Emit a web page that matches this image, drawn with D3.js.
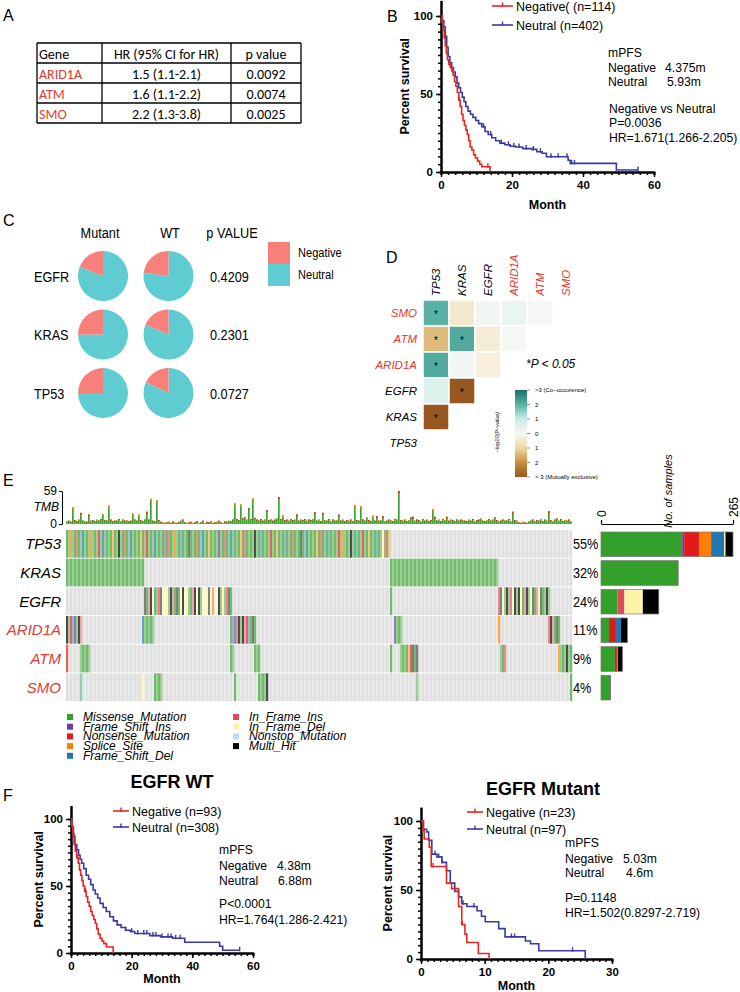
<!DOCTYPE html>
<html>
<head>
<meta charset="utf-8">
<script src="https://cdn.jsdelivr.net/npm/d3@7"></script>
<style>
  body { margin: 0; background: #fff; }
  svg { display: block; }
  text { font-family: "Liberation Sans", Arial, sans-serif; }
  .km-axis .domain { stroke: #000; stroke-width: 2; }
  .km-axis line { stroke: #000; stroke-width: 1.5; }
  .km-axis text { font-weight: bold; font-size: 11.5px; }
</style>
</head>
<body>
<svg id="fig" width="740" height="992"></svg>
<script>
"use strict";

// ---------- data: panel A ----------
const tblHeader = ["Gene", "HR (95% CI for HR)", "p value"];
const tblGenes = ["ARID1A", "ATM", "SMO"];
const tblHR = ["1.5 (1.1-2.1)", "1.6 (1.1-2.2)", "2.2 (1.3-3.8)"];
const tblP = ["0.0092", "0.0074", "0.0025"];

// ---------- data: KM curves [month, percent] ----------
const bNeg = [[0,100],[0.3,96],[0.6,91],[0.9,86],[1.2,81],[1.5,76],[1.8,72],[2.2,69],[2.6,67],[3.0,65],[3.4,62],[3.8,58],[4.2,55],[4.6,51],[5.0,46],[5.4,42],[5.8,37],[6.2,33],[6.6,30],[7.0,27],[7.4,24],[7.8,20],[8.2,16],[8.7,14],[9.2,11],[9.7,9],[10.3,7],[10.9,5],[11.5,3.4],[13.8,0]];
const bNeu = [[0,100],[0.4,97],[0.8,93],[1.2,87],[1.6,80],[2.0,74],[2.5,70],[3.0,67],[3.5,64],[4.0,61],[4.5,57],[5.0,54],[5.5,51],[6.0,48],[6.5,45],[7.0,42],[7.6,39],[8.3,37],[9.0,35],[9.8,33],[10.6,31],[11.5,29],[12.4,26],[13.3,24],[14.3,22],[15.4,20],[16.6,18.5],[18.0,17.5],[19.5,16.5],[21.0,16],[23.0,15],[25.5,14.5],[27.0,13],[28.5,12],[29.7,9.8],[35.8,7.5],[36.4,5.5],[48.5,5.5],[49.4,1.3],[55.5,1.3]];
const bNegCens = [3.1, 5.2, 13.2];
const bNeuCens = [12, 14, 17, 19, 20.5, 22, 24, 26, 28, 31, 33, 35.5, 36.8, 37.6, 55.5];

const wtNeg = [[0,100],[0.3,95],[0.6,89],[1.0,81],[1.4,76],[1.9,71],[2.4,67],[2.8,62],[3.2,58],[3.6,54],[4.0,50],[4.5,46],[5.0,42],[5.5,38],[6.0,35],[6.5,31],[7.0,28],[7.5,25],[8.0,22],[8.5,18],[9.0,14],[9.6,11],[10.2,9],[10.8,7],[11.7,4.5],[13.9,0]];
const wtNeu = [[0,100],[0.4,94],[0.8,87],[1.3,81],[1.9,77],[2.5,73],[3.0,70],[3.5,67],[4.2,63],[5.0,58],[5.8,55],[6.5,51],[7.3,47],[8.0,44],[8.8,41],[9.6,37],[10.6,34],[11.6,31],[12.8,27],[14.0,24],[15.2,21],[16.5,19],[18.0,17],[19.5,16],[21.0,14.5],[26.0,13],[29.5,12],[33.5,11],[37.5,8],[48,8],[49,5],[50,2],[55.6,2]];
const wtNegCens = [2.2, 4.8];
const wtNeuCens = [18, 20, 22, 24, 25, 27, 28, 30, 32, 33, 34.5, 36, 55.6];

const mtNeg = [[0,100],[0.3,93],[0.5,87],[1.3,81],[1.6,67],[4.0,55],[4.8,51],[5.9,38],[6.4,25],[6.9,18],[7.2,12],[9.0,4],[10.7,0]];
const mtNeu = [[0,100],[0.4,94],[0.9,92],[1.2,86],[1.7,76],[2.5,74],[3.3,70],[4.0,64],[4.6,55],[5.3,49],[5.9,45],[6.4,40],[7.2,38],[8.8,35],[9.5,31],[10.1,27],[12.2,22],[13.2,16],[16.4,13],[17.2,11],[18.5,6],[25.8,6],[25.8,0]];
const mtNegCens = [1.9, 6.5];
const mtNeuCens = [2.2, 2.8, 3.3, 6.6, 8.3, 14.2, 14.7, 23.8];

// ---------- data: panel C ----------
const pieGenes = ["EGFR", "KRAS", "TP53"];
const pieMutNegFrac = [0.19, 0.25, 0.25];
const pieWtNegFrac = [0.23, 0.185, 0.18];
const piePValues = ["0.4209", "0.2301", "0.0727"];

// ---------- data: panel D ----------
const dGenes = ["TP53", "KRAS", "EGFR", "ARID1A", "ATM", "SMO"];
const dRows = ["SMO", "ATM", "ARID1A", "EGFR", "KRAS", "TP53"];
const dPairRow = ["SMO","SMO","SMO","SMO","SMO","ATM","ATM","ATM","ATM","ARID1A","ARID1A","ARID1A","EGFR","EGFR","KRAS"];
const dPairCol = ["TP53","KRAS","EGFR","ARID1A","ATM","TP53","KRAS","EGFR","ARID1A","TP53","KRAS","EGFR","TP53","KRAS","TP53"];
const dLogP = [2.0, -0.5, 0.15, 0.3, 0.08, -1.4, 2.1, -0.4, 0.08, 2.1, 0.1, -0.3, 0.6, -3, -3];
const dSig = [1, 0, 0, 0, 0, 1, 1, 0, 0, 1, 0, 0, 0, 1, 1];
const dBarLabels = [">3 (Co\u2212occurence)", "2", "1", "0", "1", "2", "> 3 (Mutually exclusive)"];
const dBarValues = [3, 2, 1, 0, -1, -2, -3];

// ---------- data: panel E ----------
const oncoGenes = ["TP53", "KRAS", "EGFR", "ARID1A", "ATM", "SMO"];
const oncoPct = ["55%", "32%", "24%", "11%", "9%", "4%"];
const oncoN = 253;
const mutClasses = ["Missense_Mutation", "Frame_Shift_Ins", "Nonsense_Mutation", "Splice_Site", "Frame_Shift_Del", "In_Frame_Ins", "In_Frame_Del", "Nonstop_Mutation", "Multi_Hit"];
const mutCodes = ["M", "I", "N", "S", "D", "i", "d", "n", "X"];
const mutColors = ["#33A02C", "#6A3D9A", "#E31A1C", "#FF7F00", "#1F78B4", "#DF4B5B", "#FFF3A8", "#BCDCEB", "#000000"];

// runs: [first column, one code per column]
const tp53Runs = [[0,
  "MMSMMNMMDMMMSMMMNMDM" + "MMMSMMXMMNMMDMMMMSMM" + "NMMMDMMMMIMNMMSMMDMM" + "MXMMMNMMDMMSMMMMIMMN" +
  "MMDMMMMSMNMMMMXMMDMM" + "MMNMMSMMMDMMMNMMMXMM" + "DMMMMSMNMMMDMMMMNMSM" + "MMXMMDMMNMMSMMMDMMdN" + "MS"]];
const krasRuns = [[0, "MMMMMMMMMMMMMMMMMMMMMMMMMMMMMMMMMMMMMMM"],
  [162, "MMMMMMMMMMMMMMMMMMMMMMMMMMMMMMMMMMMMMMMMMMMMMMMMMMMMMM"]];
const egfrRuns = [[39, "XMiXdMMiXdddMXiMXMdXddMMiXdXMdddXdiddXMdMiXM"], [162, "M"],
  [216, "iXdMXMidXMXdMiXMdXMidXMMXM"]];
const arid1aRuns = [[0, "XMNDIMXi"], [38, "DMMMMM"], [82, "MIDNXMXiNDMXM"], [164, "IMMM"], [216, "S"], [241, "NXiMXM"]];
const atmRuns = [[0, "N"], [7, "MMMMM"], [43, "n"], [82, "MM"], [94, "MMM"], [162, "M"], [167, "MMMMSNXMX"], [217, "MMN"], [246, "SMMMXMM"]];
const smoRuns = [[7, "Mnn"], [38, "d"], [44, "MMMM"], [84, "M"], [96, "MMMMX"], [175, "M"], [252, "M"]];

// mutations per sample (TMB bars above the oncoplot)
const tmb = [
  5,6,4,30,7,5,8,20,6,5,4,17,6,7,5,8,6,9,18,7,
  6,33,8,5,7,6,9,5,8,6,7,5,6,19,8,6,17,7,5,9,
  22,8,45,6,5,43,7,4,3,2,3,4,2,5,3,2,4,6,8,3,
  2,3,4,2,3,5,2,3,6,2,4,3,5,2,3,4,6,3,2,5,
  4,6,5,8,37,9,7,35,10,12,8,28,9,46,11,8,7,9,6,8,
  25,7,9,6,8,10,48,9,16,7,8,6,9,7,8,17,6,8,7,9,
  6,8,7,9,21,6,8,5,20,7,6,9,5,8,6,7,17,6,8,5,
  7,6,8,5,34,7,6,32,8,6,12,7,5,15,6,14,7,6,14,5,
  6,8,7,5,9,8,59,7,6,8,5,7,12,13,6,8,7,5,9,6,
  8,5,7,27,13,6,8,5,9,7,13,6,8,7,5,9,6,8,7,6,
  5,8,6,9,5,7,8,10,6,5,7,9,6,8,12,7,5,6,8,7,
  6,9,5,22,7,6,3,2,4,3,2,5,6,8,5,7,6,9,5,8,
  6,23,7,5,8,10,6,9,5,7,6,8,5];

// samples per class, in mutClasses order
const tp53Counts = [163, 4, 30, 24, 26, 0, 3, 0, 15];
const krasCounts = [155, 0, 0, 0, 0, 0, 0, 0, 0];
const egfrCounts = [33, 0, 0, 0, 0, 14, 37, 0, 32];
const arid1aCounts = [16, 2, 12, 0, 10, 0, 0, 0, 13];
const atmCounts = [28, 0, 4, 2, 0, 0, 0, 0, 9];
const smoCounts = [18, 0, 0, 0, 0, 0, 0, 0, 1];

const RED = "#E4392D";
const NEG_RED = "#E8261F";
const NEU_BLUE = "#3A3AA6";
const PINK = "#F8807A";
const TEAL = "#5ECCD0";
const redGenes = ["ARID1A", "ATM", "SMO"];

const svg = d3.select("#fig");
svg.append("rect").attr("width", 740).attr("height", 992).attr("fill", "#fff");

function letter(t, x, y) {
  svg.append("text").attr("x", x).attr("y", y).style("font-size", "16px").text(t);
}

// condensed text, the figure uses a narrow sans in C and E
function narrow(g, x, y, t, size, anchor = "start") {
  return g.append("text")
    .attr("transform", `translate(${x},${y}) scale(0.82,1)`)
    .attr("text-anchor", anchor)
    .style("font-size", size)
    .text(t);
}

// ---------- A: hazard ratio table ----------
function drawTable() {
  const g = svg.append("g");
  const edges = [37, 102, 231, 301];
  const top = 43, rowH = 20;
  const rows = [tblHeader].concat(tblGenes.map((d, i) => [d, tblHR[i], tblP[i]]));

  rows.forEach((r, i) => {
    r.forEach((t, j) => {
      g.append("text")
        .attr("x", j === 0 ? edges[0] + 2 : (edges[j] + edges[j + 1]) / 2)
        .attr("y", top + i * rowH + 16)
        .attr("text-anchor", j === 0 ? "start" : "middle")
        .attr("fill", i > 0 && j === 0 ? RED : "#000")
        .style("font-family", "Carlito, 'Liberation Sans Narrow', sans-serif")
        .style("font-size", "14px")
        .text(t);
    });
  });
  for (let i = 0; i <= rows.length; i++) {
    g.append("line").attr("x1", edges[0]).attr("x2", edges[3])
      .attr("y1", top + i * rowH).attr("y2", top + i * rowH)
      .attr("stroke", "#000").attr("stroke-width", 1.3);
  }
  edges.forEach((e) => {
    g.append("line").attr("x1", e).attr("x2", e)
      .attr("y1", top).attr("y2", top + rows.length * rowH)
      .attr("stroke", "#000").attr("stroke-width", 1.3);
  });
}

// ---------- Kaplan-Meier helper ----------
function drawKM(o) {
  const g = svg.append("g");
  const x = d3.scaleLinear().domain([0, o.xMax]).range([o.x0, o.x1]);
  const y = d3.scaleLinear().domain([0, 100]).range([o.yb, o.y100]);
  const yTop = y(110);
  const yAx = y.copy().domain([0, 110]).range([o.yb, yTop]);

  // minor ticks first, then major
  g.append("g").attr("class", "km-axis")
    .attr("transform", `translate(0,${o.yb})`)
    .call(d3.axisBottom(x).tickValues(d3.range(0, o.xMax + 0.01, o.xMinor)).tickSize(3).tickFormat(""));
  g.append("g").attr("class", "km-axis")
    .attr("transform", `translate(0,${o.yb})`)
    .call(d3.axisBottom(x).tickValues(o.xTicks).tickSize(5).tickSizeOuter(0).tickPadding(4));
  g.append("g").attr("class", "km-axis")
    .attr("transform", `translate(${o.x0},0)`)
    .call(d3.axisLeft(yAx).tickValues(d3.range(0, 101, 5)).tickSize(3).tickFormat("").tickSizeOuter(0));
  g.append("g").attr("class", "km-axis")
    .attr("transform", `translate(${o.x0},0)`)
    .call(d3.axisLeft(yAx).tickValues([0, 50, 100]).tickSize(5).tickSizeOuter(0).tickPadding(3));

  const line = d3.line().x((d) => x(d[0])).y((d) => y(d[1])).curve(d3.curveStepAfter);
  const survAt = (data, t) => {
    let s = data[0][1];
    data.forEach((d) => { if (d[0] <= t) s = d[1]; });
    return s;
  };

  [[o.neu, o.neuCens, NEU_BLUE], [o.neg, o.negCens, NEG_RED]].forEach(([data, cens, col]) => {
    g.append("path").datum(data).attr("d", line)
      .attr("fill", "none").attr("stroke", col).attr("stroke-width", 1.6);
    g.selectAll(null).data(cens).enter().append("line")
      .attr("x1", (d) => x(d)).attr("x2", (d) => x(d))
      .attr("y1", (d) => y(survAt(data, d)) - 3.5)
      .attr("y2", (d) => y(survAt(data, d)) + 1)
      .attr("stroke", col).attr("stroke-width", 1.4);
  });

  // legend
  o.legend.forEach((lab, i) => {
    const col = i === 0 ? NEG_RED : NEU_BLUE;
    const ly = o.legY[i];
    g.append("line").attr("x1", o.legX).attr("x2", o.legX + o.legW)
      .attr("y1", ly).attr("y2", ly).attr("stroke", col).attr("stroke-width", 1.6);
    g.append("line").attr("x1", o.legX + o.legW / 2).attr("x2", o.legX + o.legW / 2)
      .attr("y1", ly - 3.5).attr("y2", ly + 1).attr("stroke", col).attr("stroke-width", 1.4);
    g.append("text").attr("x", o.legX + o.legW + 3).attr("y", ly + 4.5)
      .style("font-size", "12.5px").text(lab);
  });

  // annotation block
  o.notes.forEach((n) => {
    g.append("text").attr("x", n[0]).attr("y", n[1])
      .style("font-size", "12.2px").text(n[2]);
  });

  g.append("text").attr("x", (o.x0 + o.x1) / 2).attr("y", o.monthY)
    .attr("text-anchor", "middle").style("font-weight", "bold").style("font-size", "12.5px")
    .text("Month");
  g.append("text")
    .attr("transform", `translate(${o.psX},${(o.yb + yTop) / 2}) rotate(-90)`)
    .attr("text-anchor", "middle").style("font-weight", "bold").style("font-size", "12.5px")
    .text("Percent survival");

  if (o.title) {
    g.append("text").attr("x", o.title[0]).attr("y", o.title[1])
      .attr("text-anchor", "middle").style("font-weight", "bold").style("font-size", "18px")
      .text(o.title[2]);
  }
}

// ---------- C: pies ----------
function drawPies() {
  const g = svg.append("g");
  const rowY = d3.scalePoint().domain(pieGenes).range([276, 393]);
  const pie = d3.pie().sort(null);
  const arc = d3.arc().innerRadius(0).outerRadius(25);

  narrow(g, 100, 238, "Mutant", "15.5px", "middle");
  narrow(g, 170, 238, "WT", "15.5px", "middle");
  narrow(g, 232, 238, "p VALUE", "15.5px", "middle");

  pieGenes.forEach((gene, i) => {
    const cy = rowY(gene);
    narrow(g, 34, cy + 5.5, gene, "15.5px");
    narrow(g, 210, cy + 5.5, piePValues[i], "15.5px");
    [[103, pieMutNegFrac[i]], [168.5, pieWtNegFrac[i]]].forEach(([cx, f]) => {
      g.append("g").attr("transform", `translate(${cx},${cy})`)
        .selectAll("path").data(pie([1 - f, f])).enter().append("path")
        .attr("d", arc).attr("fill", (d, k) => (k === 0 ? TEAL : PINK));
    });
  });

  [["Negative", PINK], ["Neutral", TEAL]].forEach(([lab, col], i) => {
    g.append("rect").attr("x", 268).attr("y", 242 + i * 22).attr("width", 22).attr("height", 22).attr("fill", col);
    narrow(g, 298, 257 + i * 22, lab, "13.5px");
  });
}

// ---------- D: co-occurrence heatmap ----------
function drawHeatmap() {
  const g = svg.append("g");
  const x = d3.scaleBand().domain(dGenes).range([423, 579]);
  const y = d3.scaleBand().domain(dRows).range([300, 456]);
  const color = d3.scaleLinear()
    .domain([-3, -2, -1, 0, 1, 2, 3])
    .range(["#975720", "#C98E3E", "#EDD9A4", "#F8F8F4", "#C9ECE6", "#58B2A5", "#1F6E63"])
    .clamp(true);

  dLogP.forEach((v, i) => {
    const cx = x(dPairCol[i]), cy = y(dPairRow[i]);
    g.append("rect").attr("x", cx).attr("y", cy)
      .attr("width", x.bandwidth()).attr("height", y.bandwidth())
      .attr("fill", color(v)).attr("stroke", "#fff").attr("stroke-width", 1.5);
    if (dSig[i]) {
      g.append("text").attr("x", cx + x.bandwidth() / 2).attr("y", cy + y.bandwidth() / 2 + 5)
        .attr("text-anchor", "middle").style("font-size", "10px").text("*");
    }
  });

  dGenes.forEach((gene) => {
    g.append("text")
      .attr("transform", `translate(${x(gene) + x.bandwidth() / 2 + 4},296) rotate(-90)`)
      .attr("fill", redGenes.includes(gene) ? RED : "#000")
      .style("font-style", "italic").style("font-size", "11.5px").text(gene);
  });
  dRows.forEach((gene) => {
    g.append("text").attr("x", 417).attr("y", y(gene) + y.bandwidth() / 2 + 4)
      .attr("text-anchor", "end")
      .attr("fill", redGenes.includes(gene) ? RED : "#000")
      .style("font-style", "italic").style("font-size", "11.5px").text(gene);
  });

  g.append("text").attr("x", 526).attr("y", 368)
    .style("font-style", "italic").style("font-size", "12px").text("*P < 0.05");

  // colour bar
  const grad = svg.append("defs").append("linearGradient").attr("id", "cbar")
    .attr("x1", 0).attr("x2", 0).attr("y1", 0).attr("y2", 1);
  dBarValues.forEach((v, i) => {
    grad.append("stop").attr("offset", i / (dBarValues.length - 1)).attr("stop-color", color(v));
  });
  const by = d3.scaleLinear().domain([3, -3]).range([390, 477]);
  g.append("rect").attr("x", 515).attr("y", 390).attr("width", 12).attr("height", 87).attr("fill", "url(#cbar)");
  dBarValues.forEach((v, i) => {
    g.append("line").attr("x1", 527).attr("x2", 530).attr("y1", by(v)).attr("y2", by(v))
      .attr("stroke", "#444").attr("stroke-width", 0.6);
    g.append("text").attr("x", 535).attr("y", by(v) + 2)
      .style("font-size", "6px").text(dBarLabels[i]);
  });
  g.append("text").attr("transform", "translate(499,432) rotate(-90)")
    .attr("text-anchor", "middle").style("font-size", "5.5px").style("font-style", "italic")
    .text("\u2212log10(P\u2212value)");
}

// ---------- E: oncoplot ----------
function drawOncoplot() {
  const g = svg.append("g");
  const x = d3.scaleBand().domain(d3.range(oncoN)).range([66, 572]);
  const y = d3.scaleBand().domain(oncoGenes).range([530, 701]).paddingInner(0.035);
  const codeColor = d3.scaleOrdinal().domain(mutCodes).range(mutColors);
  const runs = [tp53Runs, krasRuns, egfrRuns, arid1aRuns, atmRuns, smoRuns];
  const counts = [tp53Counts, krasCounts, egfrCounts, arid1aCounts, atmCounts, smoCounts];

  oncoGenes.forEach((gene, gi) => {
    const gy = y(gene);
    g.selectAll(null).data(d3.range(oncoN)).enter().append("rect")
      .attr("x", (d) => x(d)).attr("y", gy)
      .attr("width", x.bandwidth() + 0.2).attr("height", y.bandwidth())
      .attr("fill", (d) => (d % 2 ? "#E9E9E9" : "#E0E0E0"));
    runs[gi].forEach(([start, pat]) => {
      pat.split("").forEach((c, k) => {
        const col = start + k;
        g.append("rect").attr("x", x(col)).attr("y", gy)
          .attr("width", x.bandwidth() + 0.2).attr("height", y.bandwidth())
          .attr("fill", "#fff");
        g.append("rect").attr("x", x(col)).attr("y", gy)
          .attr("width", x.bandwidth() + 0.2).attr("height", y.bandwidth())
          .attr("fill", codeColor(c)).attr("fill-opacity", col % 2 ? 0.5 : 0.7);
      });
    });

    g.append("text").attr("x", 61).attr("y", gy + y.bandwidth() / 2 + 5.5)
      .attr("text-anchor", "end")
      .attr("fill", redGenes.includes(gene) ? RED : "#000")
      .style("font-style", "italic").style("font-size", "15px").text(gene);
    narrow(g, 573, gy + y.bandwidth() / 2 + 5.5, oncoPct[gi], "15.5px");
  });

  // TMB bars
  const ty = d3.scaleLinear().domain([0, 59]).range([524, 491]);
  g.selectAll(null).data(tmb).enter().append("rect")
    .attr("x", (d, i) => x(i)).attr("y", (d) => ty(d))
    .attr("width", x.bandwidth() * 0.85).attr("height", (d) => 524 - ty(d))
    .attr("fill", "#3BA32F");
  g.selectAll(null).data(tmb).enter().append("rect")
    .attr("x", (d, i) => x(i)).attr("y", (d) => ty(d))
    .attr("width", x.bandwidth() * 0.85).attr("height", (d) => (d > 12 ? 2 : 1))
    .attr("fill", (d, i) => (i % 3 ? "#E3341C" : "#F08A1A"));
  const tAxis = g.append("g").attr("transform", "translate(62,0)")
    .call(d3.axisLeft(ty).tickValues([0, 59]).tickSize(3).tickSizeOuter(0).tickPadding(2));
  tAxis.selectAll("text").style("font-size", "12px");
  tAxis.selectAll("line,path").attr("stroke", "#000");
  g.append("text").attr("x", 59).attr("y", 511).attr("text-anchor", "end")
    .style("font-style", "italic").style("font-size", "12px").text("TMB");

  // gene bars on the right
  const bx = d3.scaleLinear().domain([0, 265]).range([601, 733]);
  oncoGenes.forEach((gene, gi) => {
    const gy = y(gene) + 2, h = y.bandwidth() - 3;
    let acc = 0;
    counts[gi].forEach((n, k) => {
      if (!n) return;
      g.append("rect").attr("x", bx(acc)).attr("y", gy)
        .attr("width", bx(acc + n) - bx(acc)).attr("height", h).attr("fill", mutColors[k]);
      acc += n;
    });
    g.append("rect").attr("x", bx(0)).attr("y", gy).attr("width", bx(acc) - bx(0)).attr("height", h)
      .attr("fill", "none").attr("stroke", "#777").attr("stroke-width", 0.7);
  });
  const bAxis = g.append("g").attr("transform", "translate(0,524)")
    .call(d3.axisTop(bx).tickValues([0, 265]).tickSize(4).tickSizeOuter(0));
  bAxis.selectAll("path,line").attr("stroke", "#000").attr("stroke-width", 1.2);
  bAxis.selectAll("text").attr("transform", "rotate(-90)")
    .attr("text-anchor", "start").attr("x", 7).attr("dy", "0.35em").attr("y", 0)
    .style("font-size", "12px");
  g.append("text").attr("transform", "translate(672,491) rotate(-90)")
    .attr("text-anchor", "middle").style("font-style", "italic").style("font-size", "11px")
    .text("No. of samples");

  // legend (rows overlap slightly, as in the figure)
  mutClasses.forEach((m, i) => {
    const col = i < 5 ? 0 : 1;
    const row = i < 5 ? i : i - 5;
    const lx = col ? 233 : 67;
    const ly = 717 + row * 9.7;
    g.append("rect").attr("x", lx).attr("y", ly - 3).attr("width", 6).attr("height", 6).attr("fill", mutColors[i]);
    g.append("text").attr("x", lx + 16).attr("y", ly + 4)
      .style("font-style", "italic").style("font-size", "12px").text(m);
  });
}

drawTable();
drawKM({
  x0: 441, x1: 654, yb: 172, y100: 16, xMax: 60, xTicks: [0, 20, 40, 60], xMinor: 2,
  neg: bNeg, neu: bNeu, negCens: bNegCens, neuCens: bNeuCens,
  legend: ["Negative( (n=114)", "Neutral (n=402)"], legX: 492, legW: 21, legY: [6, 25],
  notes: [[608, 57, "mPFS"], [608, 72, "Negative"], [665, 72, "4.375m"], [608, 86, "Neutral"], [667, 86, "5.93m"],
    [609, 113, "Negative vs Neutral"], [609, 127, "P=0.0036"], [609, 142, "HR=1.671(1.266-2.205)"]],
  monthY: 209, psX: 409,
});
drawPies();
drawHeatmap();
drawOncoplot();
drawKM({
  x0: 71, x1: 253, yb: 953, y100: 819, xMax: 60, xTicks: [0, 20, 40, 60], xMinor: 2,
  neg: wtNeg, neu: wtNeu, negCens: wtNegCens, neuCens: wtNeuCens,
  legend: ["Negative (n=93)", "Neutral (n=308)"], legX: 113, legW: 16, legY: [811, 827],
  notes: [[219, 854, "mPFS"], [219, 870, "Negative"], [277, 870, "4.38m"], [219, 885, "Neutral"], [278, 885, "6.88m"],
    [219, 908, "P<0.0001"], [219, 924, "HR=1.764(1.286-2.421)"]],
  monthY: 983, psX: 43, title: [172, 788, "EGFR WT"],
});
drawKM({
  x0: 421, x1: 612, yb: 959, y100: 821, xMax: 30, xTicks: [0, 10, 20, 30], xMinor: 1,
  neg: mtNeg, neu: mtNeu, negCens: mtNegCens, neuCens: mtNeuCens,
  legend: ["Negative (n=23)", "Neutral (n=97)"], legX: 467, legW: 16, legY: [812, 829],
  notes: [[565, 847, "mPFS"], [565, 863, "Negative"], [623, 863, "5.03m"], [565, 877, "Neutral"], [626, 877, "4.6m"],
    [565, 902, "P=0.1148"], [565, 917, "HR=1.502(0.8297-2.719)"]],
  monthY: 990, psX: 392, title: [543, 795, "EGFR Mutant"],
});

letter("A", 3, 21);
letter("B", 387, 22);
letter("C", 3, 226);
letter("D", 386, 263);
letter("E", 3, 486);
letter("F", 3, 801);
</script>
</body>
</html>
